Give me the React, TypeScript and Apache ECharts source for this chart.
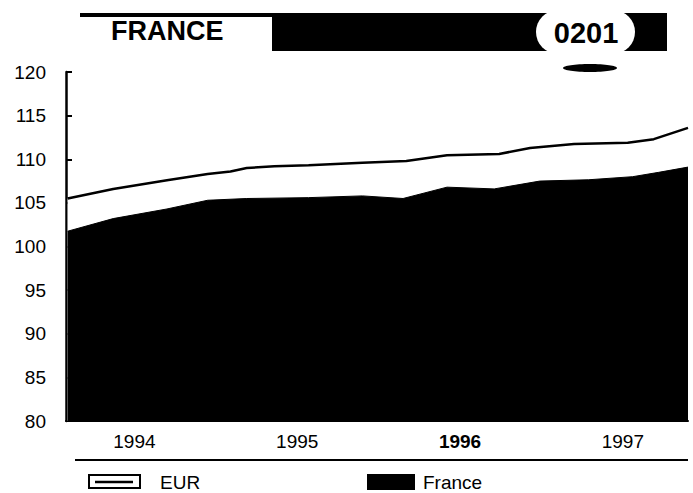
import React, { useEffect, useRef } from "react";
import * as echarts from "echarts";

// Periods in decimal years, values are index levels
const eurPeriods = [1994.09, 1994.37, 1994.7, 1994.95, 1995.09, 1995.19, 1995.36, 1995.57, 1995.9, 1996.17, 1996.42, 1996.74, 1996.93, 1997.2, 1997.53, 1997.69, 1997.9];
const eurValues = [105.5, 106.6, 107.6, 108.3, 108.6, 109.0, 109.2, 109.3, 109.6, 109.8, 110.45, 110.6, 111.3, 111.75, 111.9, 112.3, 113.6];
const francePeriods = [1994.09, 1994.37, 1994.7, 1994.95, 1995.19, 1995.57, 1995.9, 1996.15, 1996.42, 1996.71, 1996.99, 1997.29, 1997.56, 1997.72, 1997.9];
const franceValues = [101.75, 103.2, 104.3, 105.3, 105.5, 105.6, 105.8, 105.5, 106.8, 106.6, 107.5, 107.65, 108.0, 108.5, 109.1];
const yearPositions = [1994.5, 1995.5, 1996.5, 1997.5];
const yearLabels = ["1994", "1995", "1996", "1997"];
const boldYear = "1996";
const titleText = "FRANCE";
const codeText = "0201";
const legendNames = ["EUR", "France"];

const FONT = "'Liberation Sans', Arial, sans-serif";

export default function App() {
  const ref = useRef<HTMLDivElement>(null);
  useEffect(() => {
    if (!ref.current) return;
    const chart = echarts.init(ref.current, undefined, { renderer: "svg" });
    const labelFor = (v: number) => {
      const i = yearPositions.findIndex((p) => Math.abs(p - v) < 1e-6);
      const t = i >= 0 ? yearLabels[i] : "";
      return t === boldYear ? "{b|" + t + "}" : t;
    };
    chart.setOption({
      animation: false,
      backgroundColor: "#ffffff",
      textStyle: { fontFamily: FONT },
      grid: { left: 66, right: 5, top: 72, bottom: 72 },
      xAxis: {
        type: "value",
        min: 1994.08,
        max: 1997.9,
        splitLine: { show: false },
        axisLine: { show: true, lineStyle: { color: "#000", width: 2 } },
        axisTick: { show: false },
        axisLabel: {
          customValues: yearPositions,
          formatter: labelFor,
          color: "#000",
          fontSize: 19,
          fontFamily: FONT,
          margin: 11,
          rich: { b: { fontWeight: "bold", fontSize: 19, fontFamily: FONT, color: "#000" } },
        },
      },
      yAxis: {
        type: "value",
        min: 80,
        max: 120,
        interval: 5,
        splitLine: { show: false },
        axisLine: { show: true, lineStyle: { color: "#000", width: 2.5 } },
        axisTick: { show: true, inside: true, length: 6, lineStyle: { color: "#000", width: 2 } },
        axisLabel: { color: "#000", fontSize: 19, fontFamily: FONT, margin: 20 },
      },
      series: [
        {
          name: legendNames[0],
          type: "line",
          data: eurPeriods.map((p, i) => [p, eurValues[i]]),
          showSymbol: false,
          lineStyle: { color: "#000", width: 2.5 },
          areaStyle: { color: "#fff", opacity: 1 },
          z: 2,
        },
        {
          name: legendNames[1],
          type: "line",
          data: francePeriods.map((p, i) => [p, franceValues[i]]),
          showSymbol: false,
          lineStyle: { color: "#000", width: 1 },
          areaStyle: { color: "#000", opacity: 1 },
          z: 3,
        },
      ],
      graphic: [
        { type: "rect", shape: { x: 80, y: 13, width: 195, height: 4 }, style: { fill: "#000" } },
        {
          type: "text",
          x: 111,
          y: 31,
          style: { text: titleText, fill: "#000", font: "bold 27px 'Liberation Sans', Arial, sans-serif", verticalAlign: "middle", align: "left" },
        },
        { type: "rect", shape: { x: 272, y: 13, width: 395, height: 38 }, style: { fill: "#000" } },
        { type: "rect", shape: { x: 536, y: 10, width: 99, height: 44, r: 22 }, style: { fill: "#fff" } },
        {
          type: "text",
          x: 586,
          y: 33,
          style: { text: codeText, fill: "#000", font: "bold 29px 'Liberation Sans', Arial, sans-serif", verticalAlign: "middle", align: "center" },
        },
        { type: "ellipse", shape: { cx: 590, cy: 68, rx: 27, ry: 4 }, style: { fill: "#000" } },
        { type: "line", shape: { x1: 75, y1: 460, x2: 688, y2: 460 }, style: { stroke: "#000", lineWidth: 2 } },
        { type: "rect", shape: { x: 89, y: 475, width: 51, height: 13 }, style: { fill: "#fff", stroke: "#000", lineWidth: 2 } },
        { type: "line", shape: { x1: 95, y1: 482, x2: 133, y2: 482 }, style: { stroke: "#000", lineWidth: 2.5 } },
        {
          type: "text",
          x: 160,
          y: 482,
          style: { text: legendNames[0], fill: "#000", font: "19px " + FONT, verticalAlign: "middle", align: "left" },
        },
        { type: "rect", shape: { x: 367, y: 474, width: 48, height: 16 }, style: { fill: "#000" } },
        {
          type: "text",
          x: 423,
          y: 482,
          style: { text: legendNames[1], fill: "#000", font: "19px " + FONT, verticalAlign: "middle", align: "left" },
        },
      ],
    });
    return () => chart.dispose();
  }, []);
  return <div ref={ref} style={{ width: 693, height: 493, position: "absolute", left: 0, top: 0 }} />;
}
